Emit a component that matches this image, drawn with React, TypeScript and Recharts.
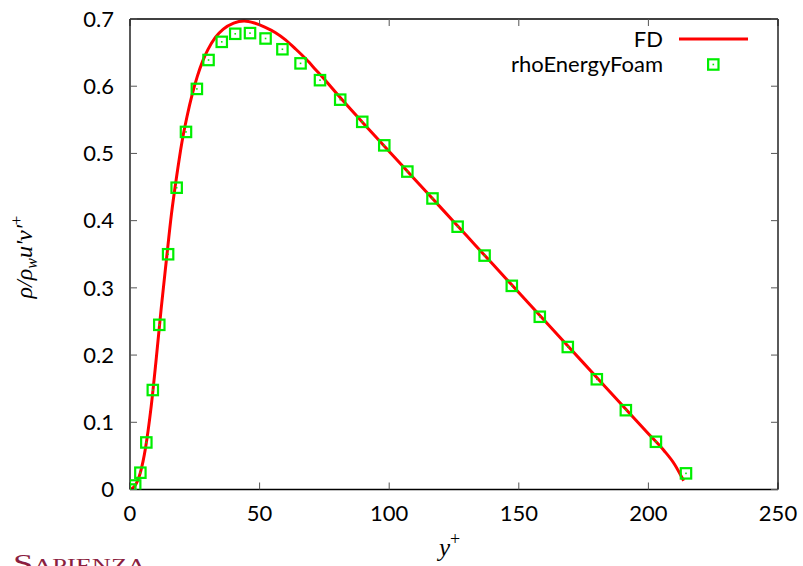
import React from 'react';
import { ComposedChart, Line, Scatter, XAxis, YAxis, Legend } from 'recharts';

// FD reference curve
const fdX = [0, 2, 4, 6, 8, 10, 12, 14, 16, 18, 20, 22, 24, 26, 28, 30, 33, 36, 40, 44, 48, 52, 56, 60, 64, 68, 72, 76, 80, 90, 100, 110, 120, 130, 140, 150, 160, 170, 180, 190, 200, 206, 210, 213.6];
const fdY = [0, 0.006, 0.025, 0.062, 0.118, 0.19, 0.268, 0.34, 0.41, 0.466, 0.516, 0.555, 0.588, 0.615, 0.637, 0.654, 0.673, 0.685, 0.694, 0.697, 0.694, 0.688, 0.68, 0.669, 0.655, 0.64, 0.623, 0.606, 0.588, 0.545, 0.503, 0.461, 0.419, 0.377, 0.335, 0.293, 0.251, 0.209, 0.167, 0.125, 0.083, 0.058, 0.038, 0.013];

// rhoEnergyFoam samples
const rhoX = [0.1, 2.0, 4.0, 6.3, 8.8, 11.3, 14.7, 18.0, 21.6, 25.8, 30.3, 35.4, 40.6, 46.3, 52.3, 58.8, 65.8, 73.3, 81.1, 89.6, 98.1, 107.0, 116.7, 126.4, 136.8, 147.3, 158.1, 168.9, 180.1, 191.3, 202.9, 214.5];
const rhoY = [0, 0.006, 0.025, 0.07, 0.148, 0.245, 0.35, 0.449, 0.532, 0.596, 0.639, 0.666, 0.678, 0.679, 0.671, 0.655, 0.634, 0.609, 0.58, 0.547, 0.512, 0.473, 0.433, 0.391, 0.348, 0.303, 0.257, 0.212, 0.164, 0.118, 0.071, 0.024];

const xTicks = [0, 50, 100, 150, 200, 250];
const yTicks = [0, 0.1, 0.2, 0.3, 0.4, 0.5, 0.6, 0.7];

const fdData = fdX.map((x, i) => ({ x, y: fdY[i] }));
const rhoData = rhoX.map((x, i) => ({ x, y: rhoY[i] }));

const FONT = 'Lato, "Open Sans", sans-serif';
const SERIF = '"Liberation Serif", "DejaVu Serif", serif';
const GREEN = '#00ee00';
const RED = '#ff0000';

const SquareMarker = (props: any) => {
  const { cx, cy } = props;
  if (cx == null || cy == null) return <g />;
  return (
    <g>
      <rect x={cx - 5.2} y={cy - 5.2} width={10.4} height={10.4} fill="none" stroke={GREEN} strokeWidth={2.2} />
      <rect x={cx - 0.8} y={cy - 0.8} width={1.6} height={1.6} fill={GREEN} />
    </g>
  );
};

const LegendBox = () => (
  <svg width={300} height={56} style={{ display: 'block' }}>
    <text x={183} y={25} textAnchor="end" fontFamily={FONT} fontSize={22} fill="#000">FD</text>
    <line x1={199} x2={268} y1={17} y2={17} stroke={RED} strokeWidth={3} />
    <text x={183} y={50} textAnchor="end" fontFamily={FONT} fontSize={22} fill="#000">rhoEnergyFoam</text>
    <rect x={228.1} y={37.3} width={10.4} height={10.4} fill="none" stroke={GREEN} strokeWidth={2.2} />
    <rect x={232.5} y={41.7} width={1.6} height={1.6} fill={GREEN} />
  </svg>
);

const tickStyle = { fill: '#000', fontSize: 22, fontFamily: FONT };
const blank = () => '';
const border = { stroke: '#000', strokeWidth: 1.3 };
const tickLine = { stroke: '#555', strokeWidth: 1 };

export default function App() {
  return (
    <div style={{ position: 'absolute', left: 0, top: 0, width: 803, height: 566, background: '#fff' }}>
      <ComposedChart
        width={803}
        height={566}
        margin={{ top: 18, right: 24, bottom: 46.5, left: 70 }}
      >
        <XAxis
          xAxisId="bottom"
          type="number"
          dataKey="x"
          domain={[0, 250]}
          ticks={xTicks}
          height={30}
          tick={tickStyle}
          tickSize={-7}
          tickMargin={23}
          axisLine={border}
          tickLine={tickLine}
          allowDataOverflow
        />
        <XAxis
          xAxisId="top"
          orientation="top"
          type="number"
          dataKey="x"
          domain={[0, 250]}
          ticks={xTicks}
          height={1}
          tickFormatter={blank}
          tickSize={-7}
          axisLine={border}
          tickLine={tickLine}
          allowDataOverflow
        />
        <YAxis
          yAxisId="left"
          type="number"
          dataKey="y"
          domain={[0, 0.7]}
          ticks={yTicks}
          width={60}
          tick={tickStyle}
          tickFormatter={(v: number) => (v === 0 ? '0' : v.toFixed(1))}
          tickSize={-7}
          tickMargin={23}
          axisLine={border}
          tickLine={tickLine}
          allowDataOverflow
        />
        <YAxis
          yAxisId="right"
          orientation="right"
          type="number"
          dataKey="y"
          domain={[0, 0.7]}
          ticks={yTicks}
          width={1}
          tickFormatter={blank}
          tickSize={-7}
          axisLine={border}
          tickLine={tickLine}
          allowDataOverflow
        />
        <Legend
          layout="horizontal"
          verticalAlign="middle"
          align="center"
          wrapperStyle={{ top: 22, left: 480, width: 300, height: 56 }}
          content={() => <LegendBox />}
        />
        {/* invisible series so the mirrored top/right axes get drawn */}
        <Line
          xAxisId="top"
          yAxisId="right"
          data={fdData}
          dataKey="y"
          stroke="none"
          dot={false}
          activeDot={false}
          isAnimationActive={false}
          legendType="none"
        />
        <Line
          xAxisId="bottom"
          yAxisId="left"
          data={fdData}
          dataKey="y"
          type="monotone"
          stroke={RED}
          strokeWidth={3}
          dot={false}
          activeDot={false}
          isAnimationActive={false}
          legendType="none"
        />
        <Scatter
          xAxisId="bottom"
          yAxisId="left"
          data={rhoData}
          dataKey="y"
          shape={SquareMarker}
          isAnimationActive={false}
          legendType="none"
        />
      </ComposedChart>

      <svg width={803} height={566} style={{ position: 'absolute', left: 0, top: 0, pointerEvents: 'none' }}>
        {/* y-axis title */}
        <text
          transform="translate(32, 257) rotate(-90)"
          textAnchor="middle"
          fontFamily={SERIF}
          fontStyle="italic"
          fontSize={24}
          fill="#000"
        >
          ρ/ρ<tspan fontSize={16} dy={5}>w</tspan>
          <tspan dy={-5}>u'v'</tspan>
          <tspan fontSize={17} fontStyle="normal" dy={-10}>+</tspan>
        </text>
        {/* x-axis title */}
        <text x={439} y={556} fontFamily={SERIF} fontStyle="italic" fontSize={25} fill="#000">
          y<tspan fontSize={18} fontStyle="normal" dy={-11}>+</tspan>
        </text>
        <text
          x={13}
          y={572}
          fontFamily={SERIF}
          fontSize={25}
          style={{ fontVariant: 'small-caps' }}
          textLength={133}
          lengthAdjust="spacingAndGlyphs"
          fill="#8b1e3f"
        >
          Sapienza
        </text>
      </svg>
    </div>
  );
}
